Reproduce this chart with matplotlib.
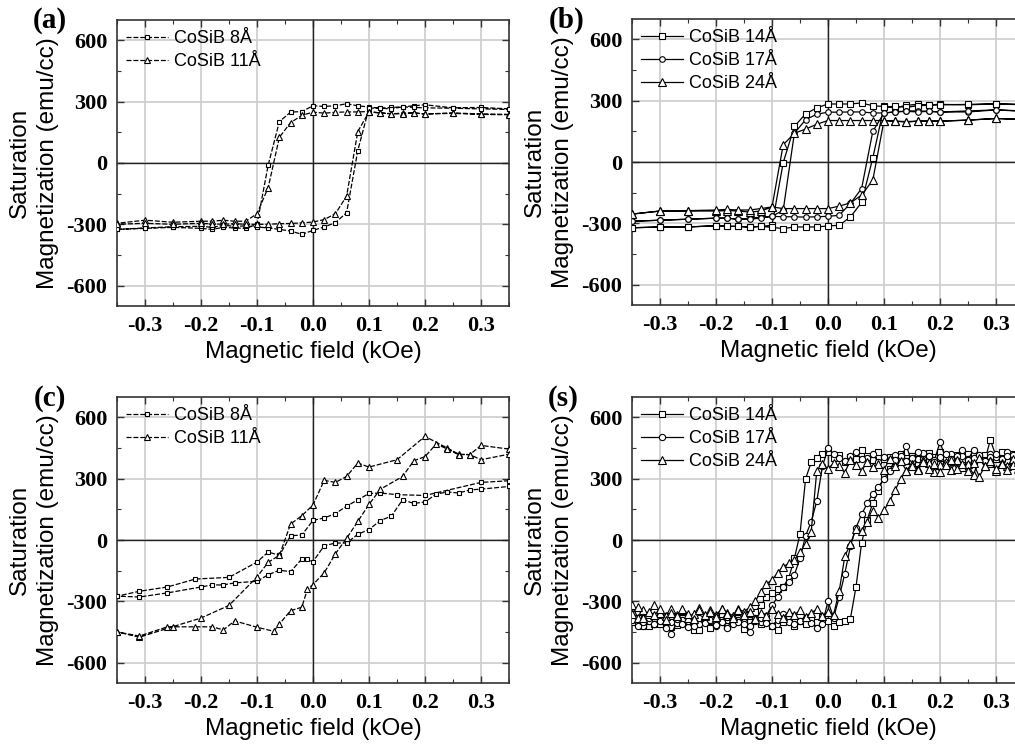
import matplotlib
matplotlib.use('Agg')
import matplotlib.pyplot as plt
from matplotlib.ticker import FixedLocator, MultipleLocator

plt.rcParams['axes.unicode_minus'] = False

# ----------------------------------------------------------------------------
# Data
# ----------------------------------------------------------------------------

XTICKS = [-0.3, -0.2, -0.1, 0.0, 0.1, 0.2, 0.3]
XTICKLABELS = ['-0.3', '-0.2', '-0.1', '0.0', '0.1', '0.2', '0.3']
YTICKS = [-600, -300, 0, 300, 600]
YTICKLABELS = ['-600', '-300', '0', '300', '600']

# panels (a) and (b): field sweep from +0.35 down to -0.35 kOe
FIELD_AB = [0.35, 0.3, 0.25, 0.2, 0.18, 0.16, 0.14, 0.12, 0.1, 0.08, 0.06,
            0.04, 0.02, 0.0, -0.02, -0.04, -0.06, -0.08, -0.1, -0.12, -0.14,
            -0.16, -0.18, -0.2, -0.25, -0.3, -0.35]

# (a)
a_8_down = [265, 272, 270, 285, 280, 275, 272, 268, 274, 280, 290, 280, 277,
            280, 252, 249, 203, -10, -300, -320, -318, -315, -325, -320, -315,
            -320, -325]
a_8_up = [-325, -318, -312, -310, -315, -305, -310, -308, -313, -318, -325,
          -333, -349, -330, -313, -292, -243, 61, 269, 268, 265, 275, 272, 270,
          268, 265, 262]
a_11_down = [238, 240, 245, 240, 245, 245, 240, 245, 252, 250, 250, 248, 244,
             249, 233, 198, 126, -120, -248, -285, -285, -280, -285, -285, -290,
             -280, -295]
a_11_up = [-300, -295, -300, -295, -298, -300, -297, -300, -300, -300, -297,
           -296, -293, -289, -277, -248, -162, 154, 250, 245, 242, 240, 245,
           240, 243, 238, 236]

# (b)
b_14_down = [280, 284, 280, 282, 280, 282, 278, 265, 272, 275, 289, 284, 284,
             284, 265, 236, 174, -3, -310, -315, -318, -315, -315, -312, -318,
             -318, -322]
b_14_up = [-322, -318, -318, -312, -315, -315, -320, -315, -320, -326, -318,
           -318, -318, -313, -310, -269, -198, 20, 270, 272, 268, 275, 278, 280,
           282, 285, 282]
b_17_down = [248, 255, 245, 245, 248, 250, 250, 245, 240, 240, 245, 245, 244,
             244, 234, 207, 141, -236, -266, -270, -275, -280, -275, -275, -280,
             -285, -290]
b_17_up = [-290, -285, -280, -275, -275, -280, -280, -275, -266, -268, -268,
           -270, -268, -266, -261, -203, -130, 150, 240, 245, 248, 245, 248,
           245, 250, 255, 250]
b_24_down = [208, 213, 205, 200, 200, 200, 195, 200, 203, 203, 203, 203, 203,
             203, 185, 161, 141, 84, -220, -240, -245, -240, -238, -240, -240,
             -240, -255]
b_24_up = [-255, -240, -238, -235, -232, -235, -235, -228, -220, -228, -228,
           -228, -228, -228, -216, -200, -162, -89, 203, 200, 198, 200, 200,
           200, 205, 213, 208]

# (c)
c_8_down_x = [0.35, 0.3, 0.2, 0.15, 0.12, 0.1, 0.08, 0.06, 0.04, 0.02, 0.0,
              -0.02, -0.04, -0.06, -0.08, -0.1, -0.15, -0.21, -0.26, -0.31,
              -0.35]
c_8_down = [290, 282, 218, 222, 230, 228, 196, 166, 129, 108, 96, 24, 21, -75,
            -59, -108, -183, -191, -230, -251, -275]
c_8_up_x = [-0.35, -0.31, -0.26, -0.2, -0.18, -0.16, -0.14, -0.1, -0.08,
            -0.06, -0.04, -0.02, -0.01, 0.0, 0.02, 0.04, 0.06, 0.08, 0.1, 0.12,
            0.14, 0.16, 0.18, 0.2, 0.22, 0.24, 0.26, 0.28, 0.3, 0.35]
c_8_up = [-275, -279, -259, -230, -220, -220, -210, -202, -170, -148, -155,
          -93, -95, -106, -28, -15, -15, 28, 51, 95, 117, 197, 179, 186, 225,
          235, 230, 245, 249, 262]
c_11_down_x = [0.35, 0.3, 0.28, 0.26, 0.24, 0.2, 0.15, 0.1, 0.08, 0.06, 0.04,
               0.02, 0.0, -0.02, -0.04, -0.06, -0.08, -0.1, -0.15, -0.2, -0.25,
               -0.31, -0.35]
c_11_down = [445, 463, 418, 420, 450, 507, 393, 357, 377, 311, 282, 292, 171,
             119, 78, -75, -109, -181, -320, -382, -424, -476, -450]
c_11_up_x = [-0.35, -0.31, -0.26, -0.21, -0.18, -0.16, -0.14, -0.1, -0.07,
             -0.06, -0.04, -0.02, -0.01, 0.0, 0.02, 0.04, 0.06, 0.08, 0.1,
             0.12, 0.16, 0.18, 0.2, 0.22, 0.24, 0.26, 0.28, 0.3, 0.35]
c_11_up = [-450, -470, -425, -425, -425, -440, -396, -427, -447, -411, -346,
           -329, -241, -218, -161, -67, 8, 91, 174, 248, 311, 388, 408, 470,
           445, 418, 418, 393, 420]

# (s): field sweep from +0.35 down to -0.35 kOe
FIELD_D = [0.35, 0.34, 0.33, 0.32, 0.31, 0.30, 0.29, 0.28, 0.27, 0.26,
           0.25, 0.24, 0.23, 0.22, 0.21, 0.20, 0.19, 0.18, 0.17, 0.16,
           0.15, 0.14, 0.13, 0.12, 0.11, 0.10, 0.09, 0.08, 0.07, 0.06,
           0.05, 0.04, 0.03, 0.02, 0.01, 0.00, -0.01, -0.02, -0.03, -0.04,
           -0.05, -0.06, -0.07, -0.08, -0.09, -0.10, -0.11, -0.12, -0.13, -0.14,
           -0.15, -0.16, -0.17, -0.18, -0.19, -0.20, -0.21, -0.22, -0.23, -0.24,
           -0.25, -0.26, -0.27, -0.28, -0.29, -0.30, -0.31, -0.32, -0.33, -0.34,
           -0.35]

d_14_down = [395, 420, 380, 410, 430, 395, 370, 415, 400, 385,
             420, 395, 405, 380, 415, 400, 385, 425, 395, 375,
             410, 400, 420, 385, 405, 395, 430, 390, 410, 440,
             395, 405, 380, 415, 400, 430, 420, 400, 380, 300,
             30, -90, -185, -230, -240, -260, -280, -320, -350, -390,
             -410, -380, -400, -420, -370, -395, -430, -385, -400, -440,
             -395, -380, -415, -400, -370, -410, -390, -420, -380, -405, -395]
d_14_up = [-400, -380, -420, -395, -410, -370, -400, -425, -390, -405,
           -380, -415, -440, -395, -380, -410, -390, -420, -400, -380,
           -435, -400, -385, -410, -395, -420, -440, -400, -385, -420,
           -395, -410, -380, -400, -375, -395, -420, -400, -395, -385,
           -230, -15, 100, 180, 240, 310, 350, 375, 400, 385,
           410, 395, 420, 390, 405, 430, 385, 400, 415, 395,
           380, 420, 400, 390, 490, 410, 395, 385, 420, 400, 410]
d_17_down = [400, 380, 415, 430, 390, 405, 420, 385, 400, 440,
             395, 410, 380, 420, 400, 480, 390, 410, 425, 395,
             380, 460, 400, 415, 390, 405, 380, 420, 400, 395,
             430, 410, 385, 400, 420, 450, 360, 190, 90, 20,
             -90, -170, -205, -230, -280, -320, -370, -400, -380, -420,
             -400, -390, -410, -375, -400, -420, -395, -380, -410, -400,
             -425, -390, -405, -460, -400, -385, -410, -395, -420, -400, -380]
d_17_up = [-390, -420, -400, -380, -410, -395, -430, -400, -385, -410,
           -395, -420, -380, -405, -390, -415, -400, -430, -385, -400,
           -410, -450, -395, -380, -405, -420, -390, -360, -400, -410,
           -395, -380, -405, -430, -410, -300, -380, -280, -165, -30,
           60, 125, 180, 225, 260, 300, 340, 390, 410, 385,
           400, 430, 395, 410, 380, 405, 420, 395, 410, 440,
           390, 400, 415, 385, 405, 420, 395, 410, 380, 400, 395]
d_24_down = [380, 350, 395, 360, 375, 340, 385, 360, 400, 320,
             370, 355, 390, 345, 380, 365, 335, 375, 390, 350,
             370, 340, 385, 360, 395, 345, 370, 355, 380, 340,
             365, 390, 330, 360, 375, 350, 370, 340, 40, -20,
             -60, -100, -115, -130, -160, -195, -215, -255, -300, -330,
             -350, -340, -370, -355, -340, -365, -345, -370, -335, -360,
             -380, -345, -365, -340, -370, -355, -320, -360, -345, -380, -320]
d_24_up = [-360, -330, -380, -350, -365, -340, -390, -355, -370, -340,
           -360, -385, -345, -365, -350, -375, -340, -360, -380, -345,
           -365, -350, -385, -355, -370, -340, -360, -380, -350, -365,
           -345, -375, -355, -340, -370, -350, -365, -250, -80, -20,
           55, 45, 90, 140, 110, 145, 190, 245, 300, 340,
           360, 345, 380, 350, 370, 335, 365, 390, 350, 370,
           340, 375, 310, 360, 385, 350, 370, 345, 365, 380, 350]

# ----------------------------------------------------------------------------
# Styling helpers
# ----------------------------------------------------------------------------

SERIF = 'Liberation Serif'
SANS = 'Liberation Sans'
DASH = (0, (4, 1.5))


def style_axes(ax):
    ax.set_xlim(-0.35, 0.35)
    ax.set_ylim(-700, 700)
    ax.xaxis.set_major_locator(FixedLocator(XTICKS))
    ax.yaxis.set_major_locator(FixedLocator(YTICKS))
    ax.xaxis.set_minor_locator(MultipleLocator(0.05))
    ax.yaxis.set_minor_locator(MultipleLocator(150))
    ax.set_xticklabels(XTICKLABELS, fontfamily=SERIF, fontweight='bold',
                       fontsize=16)
    ax.set_yticklabels(YTICKLABELS, fontfamily=SERIF, fontweight='bold',
                       fontsize=16)
    ax.set_axisbelow(True)
    ax.grid(True, which='major', color='#cccccc', lw=1.2)
    ax.axhline(0, color='#222222', lw=1.0, zorder=1.5)
    ax.axvline(0, color='#222222', lw=1.0, zorder=1.5)
    ax.tick_params(which='both', direction='in', top=True, right=True,
                   color='#333333')
    ax.tick_params(which='major', length=5, width=1.0, pad=7)
    ax.tick_params(which='minor', length=3, width=0.8)
    for s in ax.spines.values():
        s.set_color('#333333')
        s.set_linewidth(1.2)
    ax.set_xlabel('Magnetic field (kOe)', fontfamily=SANS, fontsize=17.5,
                  labelpad=4)
    ax.set_ylabel('Saturation\nMagnetization (emu/cc)', fontfamily=SANS,
                  fontsize=17.5, labelpad=5, linespacing=1.4)
    ax.legend(loc='upper left', bbox_to_anchor=(0.0, 0.995), frameon=False,
              prop={'family': SANS, 'size': 13}, handlelength=2.3,
              handletextpad=0.35, borderaxespad=0.0, borderpad=0.5,
              labelspacing=0.32)


def loop(ax, xd, yd, xu, yu, marker, ms, label, ls='-'):
    ax.plot(list(xd) + list(xu), list(yd) + list(yu), color='black', lw=0.9,
            ls=ls, marker=marker, ms=ms, mfc='white', mec='black', mew=0.8,
            label=label, zorder=3)


# ----------------------------------------------------------------------------
# Figure
# ----------------------------------------------------------------------------

W, H = 1015, 751
fig = plt.figure(figsize=(W / 100, H / 100), dpi=100)


def add_axes(left, top):
    return fig.add_axes([left / W, 1 - (top + 286) / H, 392 / W, 286 / H])


ax_a = add_axes(117, 20)
ax_b = add_axes(632, 19)
ax_c = add_axes(117, 397)
ax_d = add_axes(632, 397)

FIELD_UP = FIELD_AB[::-1]
loop(ax_a, FIELD_AB, a_8_down, FIELD_UP, a_8_up, 's', 3.5, 'CoSiB 8Å', DASH)
loop(ax_a, FIELD_AB, a_11_down, FIELD_UP, a_11_up, '^', 5, 'CoSiB 11Å', DASH)

loop(ax_b, FIELD_AB, b_14_down, FIELD_UP, b_14_up, 's', 4, 'CoSiB 14Å')
loop(ax_b, FIELD_AB, b_17_down, FIELD_UP, b_17_up, 'o', 4, 'CoSiB 17Å')
loop(ax_b, FIELD_AB, b_24_down, FIELD_UP, b_24_up, '^', 5.5, 'CoSiB 24Å')

loop(ax_c, c_8_down_x, c_8_down, c_8_up_x, c_8_up, 's', 3.5, 'CoSiB 8Å', DASH)
loop(ax_c, c_11_down_x, c_11_down, c_11_up_x, c_11_up, '^', 5, 'CoSiB 11Å',
     DASH)

FIELD_D_UP = FIELD_D[::-1]
loop(ax_d, FIELD_D, d_14_down, FIELD_D_UP, d_14_up, 's', 4.5, 'CoSiB 14Å')
loop(ax_d, FIELD_D, d_17_down, FIELD_D_UP, d_17_up, 'o', 4.5, 'CoSiB 17Å')
loop(ax_d, FIELD_D, d_24_down, FIELD_D_UP, d_24_up, '^', 5.5, 'CoSiB 24Å')

for ax in (ax_a, ax_b, ax_c, ax_d):
    style_axes(ax)

for txt, x, y in [('(a)', 50, 20), ('(b)', 567, 20), ('(c)', 50, 398),
                  ('(s)', 563, 399)]:
    fig.text(x / W, 1 - y / H, txt, fontfamily=SERIF, fontweight='bold',
             fontsize=21, ha='center', va='center')

fig.savefig('out.png', dpi=100)
